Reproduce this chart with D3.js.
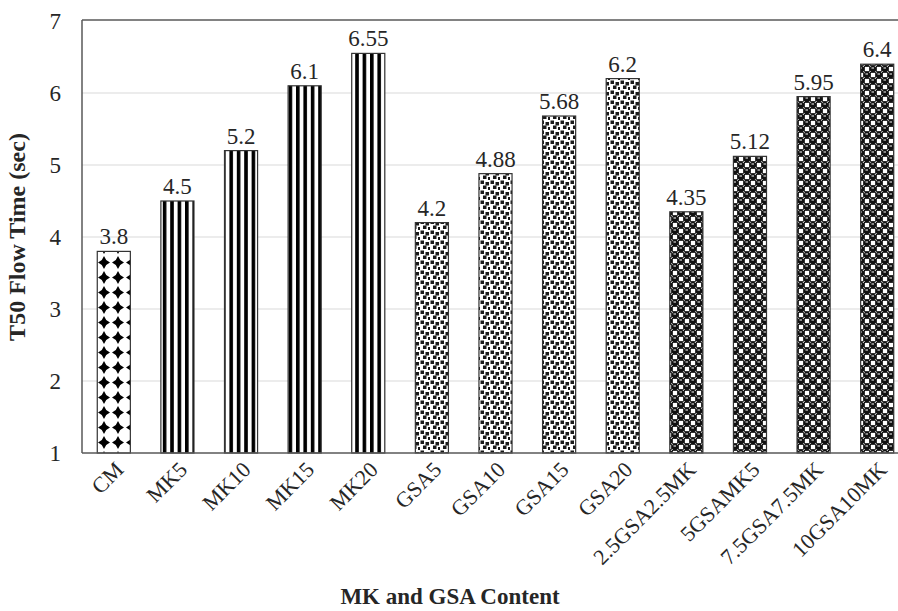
<!DOCTYPE html>
<html><head><meta charset="utf-8">
<script src="https://cdn.jsdelivr.net/npm/d3@7"></script>
<style>body{margin:0;background:#fff}svg{display:block}text{font-family:"Liberation Serif","Times New Roman",serif}</style>
</head><body><svg id="c" width="898" height="611"></svg>
<script>
const categories = ["CM","MK5","MK10","MK15","MK20","GSA5","GSA10","GSA15","GSA20","2.5GSA2.5MK","5GSAMK5","7.5GSA7.5MK","10GSA10MK"];
const values = [3.8,4.5,5.2,6.1,6.55,4.2,4.88,5.68,6.2,4.35,5.12,5.95,6.4];
const groups = ["cm","mk","mk","mk","mk","gsa","gsa","gsa","gsa","mix","mix","mix","mix"];
const yTicks = [1,2,3,4,5,6,7];
const valueLabels = ["3.8","4.5","5.2","6.1","6.55","4.2","4.88","5.68","6.2","4.35","5.12","5.95","6.4"];

const svg = d3.select("#c");
const L = 82, R = 909, T = 21, B = 453;
const x = d3.scaleBand().domain(categories).range([L, R]).paddingInner(0.48).paddingOuter(0.24);
const y = d3.scaleLinear().domain([1,7]).range([B, T]);

const defs = svg.append("defs");
// CM: diamonds
let p = defs.append("pattern").attr("id","cm").attr("patternUnits","userSpaceOnUse").attr("width",14).attr("height",15).attr("x",L+1).attr("y",0);
p.append("rect").attr("width",14).attr("height",15).attr("fill","#fff");
p.append("path").attr("d","M7,1 L9.2,5 L13,7.5 L9.2,10 L7,14 L4.8,10 L1,7.5 L4.8,5 Z").attr("fill","#000");
// MK: vertical stripes
p = defs.append("pattern").attr("id","mk").attr("patternUnits","userSpaceOnUse").attr("width",7.4).attr("height",10);
p.append("rect").attr("width",7.4).attr("height",10).attr("fill","#fff");
p.append("rect").attr("x",0).attr("width",3.6).attr("height",10).attr("fill","#000");
// GSA: confetti squares
p = defs.append("pattern").attr("id","gsa").attr("patternUnits","userSpaceOnUse").attr("width",10).attr("height",10);
p.append("rect").attr("width",10).attr("height",10).attr("fill","#fff");
[[0.5,0.5],[5.5,2],[3,5.5],[8,7]].forEach(([a,b])=>{
  p.append("rect").attr("x",a).attr("y",b).attr("width",3.5).attr("height",3.5).attr("fill","#1a1a1a");
});
// MIX: spheres checker
p = defs.append("pattern").attr("id","mix").attr("patternUnits","userSpaceOnUse").attr("width",12).attr("height",12);
p.append("rect").attr("width",12).attr("height",12).attr("fill","#fff");
p.append("rect").attr("x",6.5).attr("y",0.5).attr("width",5).attr("height",5).attr("fill","none").attr("stroke","#000").attr("stroke-width",0.8);
p.append("rect").attr("x",0.5).attr("y",6.5).attr("width",5).attr("height",5).attr("fill","none").attr("stroke","#000").attr("stroke-width",0.8);
p.append("circle").attr("cx",3).attr("cy",3).attr("r",3.3).attr("fill","#111");
p.append("circle").attr("cx",9).attr("cy",9).attr("r",3.3).attr("fill","#111");
p.append("rect").attr("x",1.5).attr("y",1.5).attr("width",2.5).attr("height",1).attr("fill","#fff");
p.append("rect").attr("x",7.5).attr("y",7.5).attr("width",2.5).attr("height",1).attr("fill","#fff");

// gridlines
svg.append("g").selectAll("line").data(yTicks.filter(d=>d>1 && d<7)).join("line")
  .attr("x1",L).attr("x2",898).attr("y1",d=>y(d)).attr("y2",d=>y(d))
  .attr("stroke","#d9d9d9").attr("stroke-width",1);

// bars
svg.append("g").selectAll("rect").data(values).join("rect")
  .attr("x",(d,i)=>x(categories[i])).attr("width",x.bandwidth())
  .attr("y",d=>y(d)).attr("height",d=>B-y(d))
  .attr("fill",(d,i)=>`url(#${groups[i]})`)
  .attr("stroke","#333").attr("stroke-width",1.2);

// frame
svg.append("line").attr("x1",L).attr("x2",898).attr("y1",T-1).attr("y2",T-1).attr("stroke","#595959").attr("stroke-width",1.5);
svg.append("line").attr("x1",L).attr("x2",L).attr("y1",T-1).attr("y2",B).attr("stroke","#595959").attr("stroke-width",1.5);
svg.append("line").attr("x1",L).attr("x2",898).attr("y1",B).attr("y2",B).attr("stroke","#595959").attr("stroke-width",1.5);

// value labels
svg.append("g").selectAll("text").data(values).join("text")
  .attr("x",(d,i)=>x(categories[i])+x.bandwidth()/2).attr("y",d=>y(d)-7)
  .attr("text-anchor","middle").attr("font-size",23).attr("fill","#262626")
  .text((d,i)=>valueLabels[i]);

// y axis labels
const yAxis = d3.axisLeft(y).tickValues(yTicks).tickSize(0).tickPadding(21).tickFormat(d3.format("d"));
const gy = svg.append("g").attr("transform",`translate(${L},0)`).call(yAxis);
gy.select(".domain").remove();
gy.selectAll("text").attr("font-size",23).attr("fill","#262626").attr("font-family","Liberation Serif");

// x axis labels
const xAxis = d3.axisBottom(x).tickSize(0).tickPadding(0);
const gx = svg.append("g").attr("transform",`translate(0,${B})`).call(xAxis);
gx.select(".domain").remove();
gx.selectAll("text").attr("font-size",22).attr("fill","#262626").attr("font-family","Liberation Serif")
  .attr("text-anchor","end").attr("dy",null).attr("y",0)
  .attr("transform","translate(11,18) rotate(-45)");

// titles
svg.append("text").attr("x",450).attr("y",604).attr("text-anchor","middle")
  .attr("font-size",23).attr("font-weight","bold").attr("fill","#262626").text("MK and GSA Content");
svg.append("text").attr("transform",`translate(25,${(T+B)/2}) rotate(-90)`).attr("text-anchor","middle")
  .attr("font-size",24).attr("font-weight","bold").attr("fill","#262626").text("T50 Flow Time (sec)");
</script></body></html>
